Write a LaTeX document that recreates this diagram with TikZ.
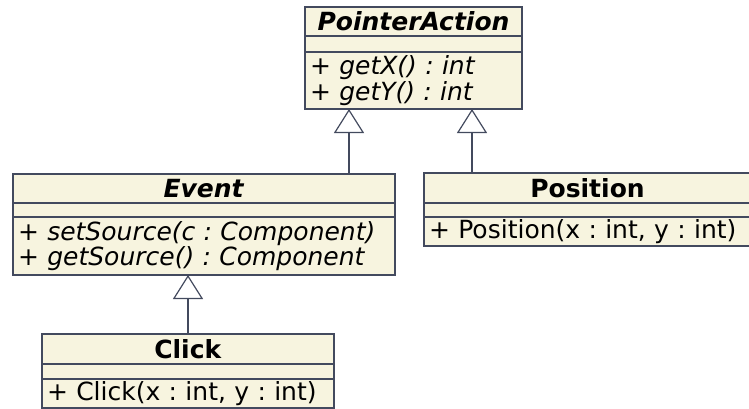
\documentclass[tikz,border=0pt]{standalone}
\usepackage{fontspec}
\setmainfont{DejaVu Sans}
\usepackage{xcolor}
\usetikzlibrary{arrows.meta,positioning}

\definecolor{umlfill}{HTML}{F7F4DF}
\definecolor{umlline}{HTML}{434A5E}

\tikzset{
  compart/.style={draw=umlline, fill=umlfill, line width=1.2pt, inner sep=0pt, outer sep=0pt,
    font=\fontsize{25}{25.5}\selectfont\frenchspacing},
  ctitle/.style={compart, anchor=north west},
  cmeth/.style={compart, inner xsep=5pt, align=left},
  inherit/.style={draw=umlline, line width=1.2pt, -{Triangle[open, width=30pt, length=24pt]}}
}

\begin{document}
\begin{tikzpicture}[x=1pt,y=-1pt]
    \useasboundingbox (0,0) rectangle (749,409);

    % PointerAction
    \node[ctitle, minimum width=217pt, minimum height=29pt] (patitle) at (305,7) {\textbf{\textit{PointerAction}}};
    \node[compart, minimum width=217pt, minimum height=16pt, below=0pt of patitle] (paattr) {};
    \node[cmeth, text width=207pt, minimum height=57pt, below=0pt of paattr] (pameth) {+ \textit{getX() : int}\\+ \textit{getY() : int}};

    % Event
    \node[ctitle, minimum width=382pt, minimum height=29pt] (evtitle) at (13,174) {\textbf{\textit{Event}}};
    \node[compart, minimum width=382pt, minimum height=14pt, below=0pt of evtitle] (evattr) {};
    \node[cmeth, text width=372pt, minimum height=58pt, below=0pt of evattr] (evmeth) {+ \textit{setSource(c : Component)}\\+ \textit{getSource() : Component}};

    % Position
    \node[ctitle, minimum width=327pt, minimum height=30pt] (potitle) at (424,173) {\textbf{Position}};
    \node[compart, minimum width=327pt, minimum height=14pt, below=0pt of potitle] (poattr) {};
    \node[cmeth, text width=317pt, minimum height=29pt, below=0pt of poattr] (pometh) {+ Position(x : int, y : int)};

    % Click
    \node[ctitle, minimum width=292pt, minimum height=30pt] (cltitle) at (42,334) {\textbf{Click}};
    \node[compart, minimum width=292pt, minimum height=15pt, below=0pt of cltitle] (clattr) {};
    \node[cmeth, text width=282pt, minimum height=29pt, below=0pt of clattr] (clmeth) {+ Click(x : int, y : int)};

    % generalizations
    \coordinate (paleft) at ([xshift=-64.5pt]pameth.south);
    \coordinate (paright) at ([xshift=58.5pt]pameth.south);
    \coordinate (evbot) at ([xshift=-16pt]evmeth.south);
    \draw[inherit] (evtitle.north -| paleft) -- (paleft);
    \draw[inherit] (potitle.north -| paright) -- (paright);
    \draw[inherit] (cltitle.north -| evbot) -- (evbot);
\end{tikzpicture}
\end{document}
